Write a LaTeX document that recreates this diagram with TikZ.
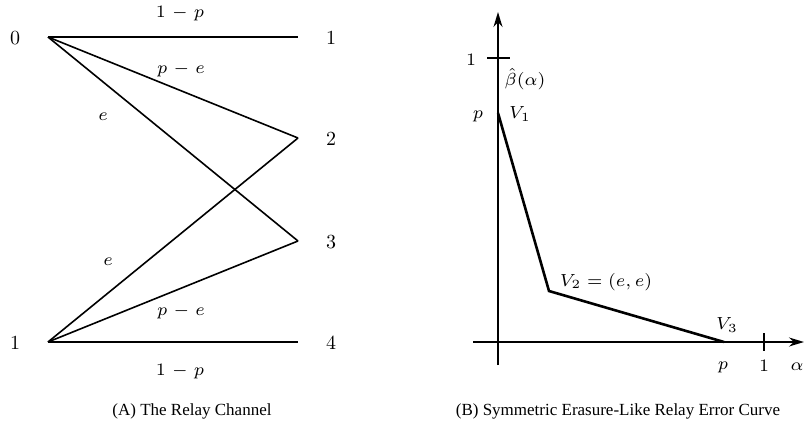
\documentclass[tikz,border=0pt]{standalone}
\usepackage{fontspec}
\usepackage{amsmath}
\setmainfont{Liberation Serif}
\usetikzlibrary{arrows.meta}
\tikzset{
  edge/.style={line width=1.6pt},
  curve/.style={line width=2.6pt, line join=miter},
  axis/.style={line width=1.6pt, -{Stealth[length=15pt,width=9pt]}},
  tickline/.style={line width=1.4pt},
  vlab/.style={inner sep=0pt, scale=2, font=\fontsize{10}{12}\selectfont},
  elab/.style={inner sep=0pt, scale=2.5, font=\fontsize{7}{8}\selectfont},
  captext/.style={inner sep=0pt, font=\fontsize{17}{19}\selectfont},
}
\begin{document}
\begin{tikzpicture}[x=1pt,y=-1pt]
\useasboundingbox (0,0) rectangle (804,434);
% ---------- (A) relay channel ----------
\coordinate (a0) at (48,37);
\coordinate (a1) at (48,342);
\coordinate (b1) at (298,37);
\coordinate (b2) at (298,138);
\coordinate (b3) at (298,241);
\coordinate (b4) at (298,342);
\node[vlab] (n0) at (15,38) {$0$};
\node[vlab] (n1) at (15,343) {$1$};
\node[vlab] (m1) at (331,38) {$1$};
\node[vlab] (m2) at (331,139) {$2$};
\node[vlab] (m3) at (331,242) {$3$};
\node[vlab] (m4) at (331,343) {$4$};
\draw[edge] (a0) -- (b1);
\draw[edge] (a0) -- (b2);
\draw[edge] (a0) -- (b3);
\draw[edge] (a1) -- (b2);
\draw[edge] (a1) -- (b3);
\draw[edge] (a1) -- (b4);
\node[elab] (t1) at (180,14) {$1\mskip1.5mu-\mskip1.5mu p$};
\node[elab] (t2) at (181,70) {$p\mskip1.5mu-\mskip1.5mu e$};
\node[elab] (t3) at (103,117) {$e$};
\node[elab] (t4) at (108,262) {$e$};
\node[elab] (t5) at (181,312) {$p\mskip1.5mu-\mskip1.5mu e$};
\node[elab] (t6) at (180,372) {$1\mskip1.5mu-\mskip1.5mu p$};
\node[captext] (capA) at (192,411) {(A) The Relay Channel};
% ---------- (B) error curve ----------
\coordinate (ybot) at (498,365);
\coordinate (ytop) at (498,12);
\coordinate (xl) at (473,342);
\coordinate (xr) at (804,342);
\draw[axis] (ybot) -- (ytop);
\draw[axis] (xl) -- (xr);
\coordinate (tk1a) at (487,58);
\coordinate (tk1b) at (510,58);
\draw[tickline] (tk1a) -- (tk1b);
\coordinate (tk2a) at (764,333);
\coordinate (tk2b) at (764,351);
\draw[tickline] (tk2a) -- (tk2b);
\coordinate (V1) at (498,113);
\coordinate (V2) at (549,291);
\coordinate (V3) at (724,342);
\draw[curve] (V1) -- (V2) -- (V3);
\node[elab] (y1) at (471,60) {$1$};
\node[elab] (yb) at (525,79) {$\hat\beta(\alpha)$};
\node[elab] (yp) at (478,116) {$p$};
\node[elab] (lv1) at (520,114) {$V_1$};
\node[elab] (lv2) at (606,282) {$V_2=(e,e)$};
\node[elab] (lv3) at (727,325) {$V_3$};
\node[elab] (xp) at (723,367) {$p$};
\node[elab] (x1) at (764,366) {$1$};
\node[elab] (xa) at (797,367) {$\alpha$};
\node[captext] (capB) at (618,411) {(B) Symmetric Erasure-Like Relay Error Curve};
\end{tikzpicture}
\end{document}
